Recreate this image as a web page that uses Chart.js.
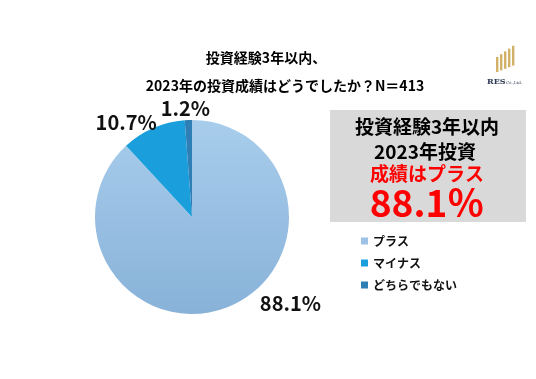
<!DOCTYPE html>
<html>
<head>
<meta charset="utf-8">
<script src="https://cdn.jsdelivr.net/npm/chart.js@4"></script>
<style>
  html, body { margin: 0; padding: 0; background: #fff; }
  #wrap { position: relative; width: 536px; height: 379px; }
</style>
</head>
<body>
<div id="wrap"><canvas id="Charts" width="536" height="379"></canvas></div>
<script>
// data
var categories = ['プラス', 'マイナス', 'どちらでもない'];
var shares = [88.1, 10.7, 1.2];
var labelText = ['88.1%', '10.7%', '1.2%'];
var titleLines = ['投資経験3年以内、', '2023年の投資成績はどうでしたか？N＝413'];
var boxLines = ['投資経験3年以内', '2023年投資', '成績はプラス', '88.1％'];

var JP = '"Noto Sans CJK JP", "Noto Sans", sans-serif';
var sliceColors = ['#9cc3e6', '#1a9fdc', '#2d7fb6'];

// outside labels: nudge from the outer point of each slice
var labelNudge = [[63, -4], [-27, -6], [-3, -12]];

var extras = {
  id: 'extras',
  beforeDraw: function(chart) {
    var c = chart.ctx;
    c.save();
    c.fillStyle = '#ffffff';
    c.fillRect(0, 0, chart.width, chart.height);
    // grey summary box
    c.fillStyle = '#d9d9d9';
    c.fillRect(330, 110, 196, 112);
    c.restore();
  },
  afterDraw: function(chart) {
    var c = chart.ctx;
    c.save();
    c.textAlign = 'center';
    c.textBaseline = 'middle';
    // title
    c.fillStyle = '#000';
    c.font = 'bold 14px ' + JP;
    c.fillText(titleLines[0], 266, 58);
    c.fillText(titleLines[1], 285, 86);

    // box text
    c.font = 'bold 19px ' + JP;
    c.fillText(boxLines[0], 427, 127);
    c.fillText(boxLines[1], 425, 152);
    c.fillStyle = '#ff0000';
    c.fillText(boxLines[2], 427, 174);
    c.font = 'bold 37px ' + JP;
    c.fillText(boxLines[3], 427, 203);

    // legend
    var ys = [241, 263, 285];
    c.textAlign = 'left';
    c.font = 'bold 12px ' + JP;
    for (let i = 0; i < categories.length; i++) {
      c.fillStyle = sliceColors[i];
      c.fillRect(361, ys[i] - 3.5, 7, 7);
      c.fillStyle = '#111';
      c.fillText(categories[i], 373, ys[i]);
    }

    // slice labels
    var meta = chart.getDatasetMeta(0);
    c.textAlign = 'center';
    c.fillStyle = '#111';
    c.font = 'bold 20px ' + JP;
    meta.data.forEach(function(arc, i) {
      var p = arc.getProps(['x', 'y', 'startAngle', 'endAngle', 'outerRadius'], true);
      var mid = (p.startAngle + p.endAngle) / 2;
      var x = p.x + Math.cos(mid) * p.outerRadius + labelNudge[i][0];
      var y = p.y + Math.sin(mid) * p.outerRadius + labelNudge[i][1];
      c.fillText(labelText[i], x, y);
    });

    // logo
    c.fillStyle = '#d2b266';
    for (let k = 0; k < 5; k++) {
      var bx = 496 + k * 4;
      var top = 57 - k * 2.8;
      var bot = 72 - k * 1.6;
      c.fillRect(bx, top, 2.4, bot - top);
    }
    c.fillStyle = '#2b3a55';
    c.font = 'bold 8px "DejaVu Serif", serif';
    c.textAlign = 'left';
    c.fillText('RES', 487, 82);
    c.font = '4px "DejaVu Serif", serif';
    c.fillText('Co.,Ltd.', 506, 83);
    c.restore();
  }
};

var ctx = document.getElementById('Charts').getContext('2d');
var myChart = new Chart(ctx, {
  type: 'pie',
  data: {
    labels: categories,
    datasets: [{
      data: shares,
      backgroundColor: function(context) {
        var i = context.dataIndex;
        var ca = context.chart.chartArea;
        if (i !== 0 || !ca) return sliceColors[i];
        var g = context.chart.ctx.createLinearGradient(0, ca.top, 0, ca.bottom);
        g.addColorStop(0, '#a8cdec');
        g.addColorStop(1, '#89b2d9');
        return g;
      },
      borderWidth: 0
    }]
  },
  options: {
    responsive: false,
    animation: false,
    layout: { padding: { left: 95, right: 247, top: 120, bottom: 65 } },
    plugins: {
      legend: { display: false },
      tooltip: { enabled: false }
    }
  },
  plugins: [extras]
});
</script>
</body>
</html>
